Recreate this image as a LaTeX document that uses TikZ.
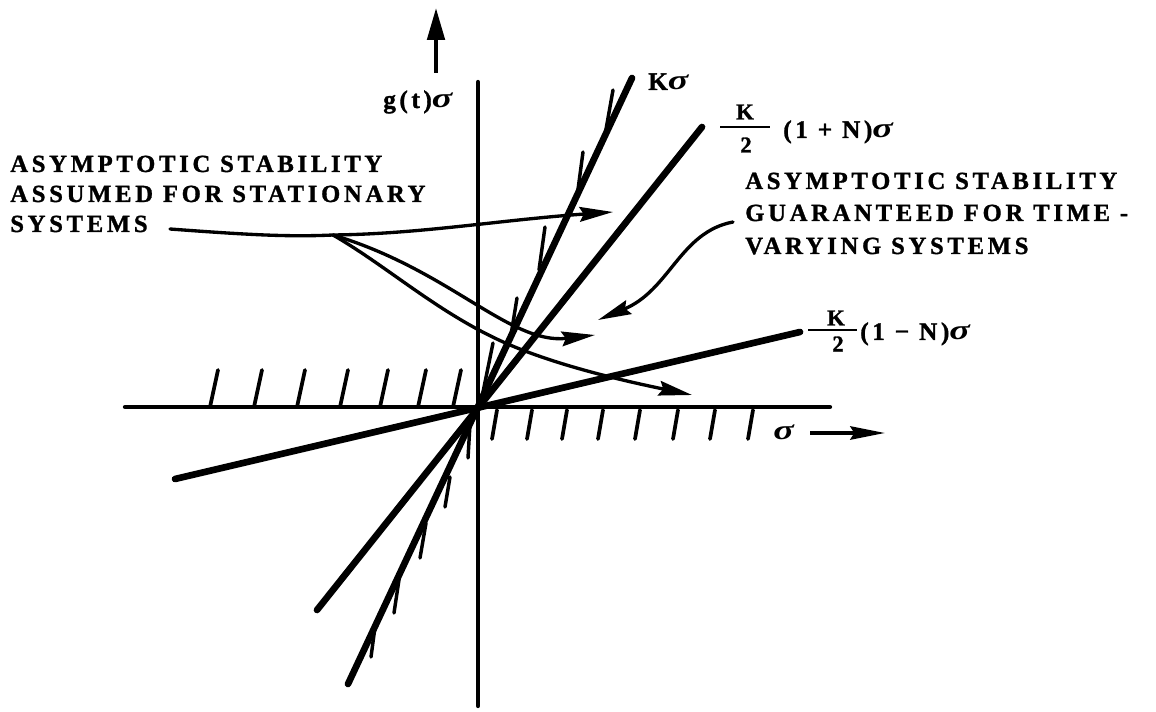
\documentclass[tikz,border=0pt]{standalone}
\usepackage{fontspec}
\usepackage{graphicx}
\setmainfont{Liberation Serif}
\newfontfamily\labfont[LetterSpace=15,BoldFeatures={FakeBold=1.2}]{Liberation Serif}
\newfontfamily\formfont[LetterSpace=14,BoldFeatures={FakeBold=1.2}]{Liberation Serif}
\usetikzlibrary{arrows.meta,calc}
\newcommand\sigm{\scalebox{1.5}[1.1]{\textit{σ}}}
\begin{document}
\begin{tikzpicture}[x=0.75pt,y=-0.75pt,
  axis/.style={line width=3.2pt,line cap=round},
  gline/.style={line width=5pt,line cap=round},
  barb/.style={line width=2.6pt,line cap=round},
  hatch/.style={line width=2.8pt,line cap=round},
  curve/.style={line width=2.5pt,line cap=round},
  head/.style={-{Stealth[length=25pt,width=11pt,inset=3pt]}},
  lab/.style={inner sep=0pt,anchor=base west,font={\labfont\bfseries\fontsize{18.5}{22}\selectfont}},
  form/.style={inner sep=0pt,font={\formfont\bfseries\fontsize{19}{22}\selectfont}},
  frac/.style={inner sep=0pt,font={\formfont\bfseries\fontsize{17}{20}\selectfont}}]
\fill[white] (0,0) rectangle (1156,712);
\useasboundingbox (0,0) rectangle (1156,712);
% axes
\coordinate (O) at (478,407);
\coordinate (xl) at (125,407); \coordinate (xr) at (830,407);
\coordinate (yt) at (478,82);  \coordinate (yb) at (478,706);
\draw[axis] (xl) -- (xr);
\draw[axis] (yt) -- (yb);
% hatching
\foreach \x in {210,254,297,340,380,418,453} \draw[hatch] (\x,407) -- (\x+8,370);
\foreach \x in {497,532,567,603,640,678,715,753} \draw[hatch] (\x,410) -- (\x-5,439);
% sector lines
\coordinate (K1) at (632,78);  \coordinate (K0) at (348,684);
\coordinate (P1) at (702,127); \coordinate (P0) at (317,610);
\coordinate (M1) at (800,332); \coordinate (M0) at (175,479);
\draw[gline] (K0) -- (K1);
\draw[gline] (P0) -- (P1);
\draw[gline] (M0) -- (M1);
% barbs on K sigma line
\draw[barb] (613,90) -- (605,135);
\draw[barb] (583,152) -- (577,197);
\draw[barb] (545,227) -- (539,270);
\draw[barb] (517,298) -- (511,335);
\draw[barb] (493,343) -- (482,397);
\draw[barb] (468,458) -- (470,424);
\draw[barb] (445,507) -- (450,477);
\draw[barb] (420,558) -- (426,523);
\draw[barb] (394,613) -- (400,573);
\draw[barb] (371,657) -- (375,627);
% axis arrows
\coordinate (ua0) at (436,73); \coordinate (ua1) at (436,8);
\draw[line width=3pt,-{Triangle[length=24pt,width=13pt]}] (ua0) -- (ua1);
\node[form,anchor=base west] (sg) at (773,440) {\sigm};
\coordinate (sa0) at (810,433); \coordinate (sa1) at (885,433);
\draw[line width=2.8pt,-{Stealth[length=26pt,width=10pt,inset=3pt]}] (sa0) -- (sa1);
% labels
\node[lab] (a1) at (10,172) {ASYMPTOTIC STABILITY};
\node[lab] (a2) at (10,202) {ASSUMED FOR STATIONARY};
\node[lab] (a3) at (10,232) {SYSTEMS};
\node[lab] (b1) at (745,189) {ASYMPTOTIC STABILITY};
\node[lab] (b2) at (745,221) {GUARANTEED FOR TIME -};
\node[lab] (b3) at (745,254) {VARYING SYSTEMS};
% curves
\coordinate (c0) at (170,229);
\coordinate (J) at (333,235);
\coordinate (t1) at (613,212);
\coordinate (t2) at (595,335);
\coordinate (t3) at (692,395);
\draw[curve,head] (c0) .. controls (250,235) and (290,237) .. (J) .. controls (420,234) and (500,220) .. (t1);
\draw[curve,head] (J) .. controls (450,270) and (510,345) .. (t2);
\draw[curve,head] (J) .. controls (390,268) and (440,315) .. (510,345) .. controls (560,366) and (620,380) .. (t3);
\coordinate (r0) at (733,222);
\coordinate (r1) at (598,320);
\draw[curve,head] (r0) .. controls (680,232) and (670,290) .. (r1);
% formula labels
\node[form,anchor=base west] (gl) at (383,108) {g(t)\sigm};
\node[form,anchor=base west] (kl) at (648,90) {K\sigm};
\node[frac] (f1n) at (745,112) {K};
\node[frac] (f1d) at (746,145) {2};
\draw[line width=1.5pt] (720,127) -- (770,127);
\node[form,anchor=base west] (f1t) at (783,138) {(1 + N)\sigm};
\node[frac] (f2n) at (836,318) {K};
\node[frac] (f2d) at (838,344) {2};
\draw[line width=1.5pt] (808,330) -- (857,330);
\node[form,anchor=base west] (f2t) at (860,340) {(1 − N)\sigm};
\end{tikzpicture}
\end{document}
